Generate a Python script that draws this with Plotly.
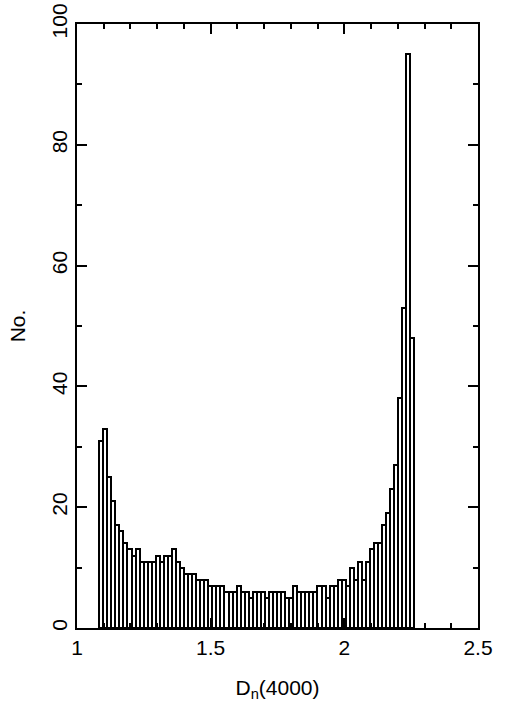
import plotly.graph_objects as go

# Histogram counts (78 bins)
counts = [31, 33, 25, 21, 17, 16, 14, 13, 12, 13,
          11, 11, 11, 11, 12, 11, 12, 12, 13, 11,
          10, 9, 9, 9, 8, 8, 8, 7, 7, 7,
          7, 6, 6, 6, 7, 6, 6, 5, 6, 6,
          6, 5, 6, 6, 6, 6, 5, 5, 7, 6,
          6, 6, 6, 6, 7, 7, 5, 7, 7, 8,
          8, 7, 10, 8, 11, 8, 11, 13, 14, 14,
          17, 19, 23, 27, 38, 53, 95, 48]
bin_start = 1.083
bin_width = 0.01512
x_ticks = [1, 1.5, 2, 2.5]
x_ticklabels = ["1", "1.5", "2", "2.5"]
y_ticks = [0, 20, 40, 60, 80, 100]

centers = [bin_start + bin_width * (i + 0.5) for i in range(len(counts))]

fig = go.Figure(go.Bar(
    x=centers, y=counts, width=bin_width,
    marker=dict(color="white", line=dict(color="black", width=2)),
))

font = dict(family="Liberation Sans, Arial, Helvetica, sans-serif", size=21, color="black")

fig.update_layout(
    width=505, height=706,
    margin=dict(l=77, r=27, t=24, b=78),
    plot_bgcolor="white", paper_bgcolor="white",
    showlegend=False, bargap=0,
    font=font,
)
fig.update_xaxes(
    range=[1, 2.5], tickvals=x_ticks, ticktext=x_ticklabels,
    ticks="inside", ticklen=10, tickwidth=1.5, tickcolor="black",
    minor=dict(dtick=0.1, tick0=1, ticks="inside", ticklen=5, tickwidth=1.5, tickcolor="black"),
    showline=True, linewidth=2, linecolor="black", mirror="ticks",
    showgrid=False, zeroline=False, automargin=False,
    ticklabeloverflow="allow",
    title=dict(text="D<sub>n</sub>(4000)", font=font, standoff=22),
    tickfont=font,
)
fig.update_yaxes(
    range=[0, 100], tickvals=y_ticks,
    ticks="inside", ticklen=10, tickwidth=1.5, tickcolor="black",
    minor=dict(dtick=10, tick0=0, ticks="inside", ticklen=5, tickwidth=1.5, tickcolor="black"),
    showline=True, linewidth=2, linecolor="black", mirror="ticks",
    showgrid=False, zeroline=False, automargin=False,
    ticklabeloverflow="allow",
    tickangle=-90,
    title=dict(text="No.", font=font, standoff=16),
    tickfont=font,
)

fig.write_html("out.html", config={"displayModeBar": False},
               post_script="document.body.style.margin='0';")
